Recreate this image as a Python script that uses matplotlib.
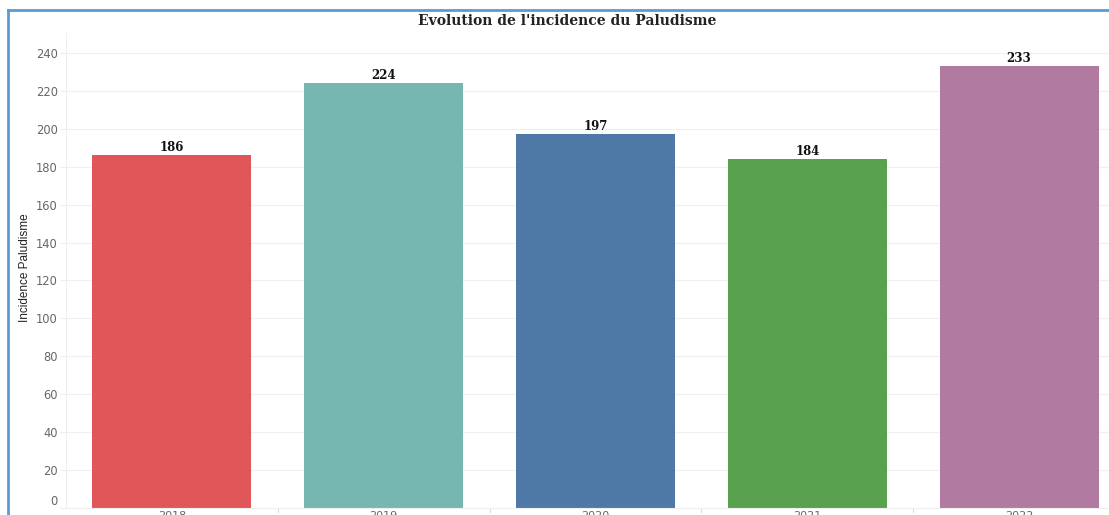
import matplotlib
matplotlib.use('Agg')
import matplotlib.pyplot as plt
from matplotlib.lines import Line2D

# Données
annees = ['2018', '2019', '2020', '2021', '2022']
incidence = [186, 224, 197, 184, 233]
couleurs = ['#e15759', '#76b7b2', '#4e79a7', '#59a14f', '#b07aa1']
graduations = [0, 20, 40, 60, 80, 100, 120, 140, 160, 180, 200, 220, 240]

fig = plt.figure(figsize=(11.09, 5.15), dpi=100)
ax = fig.add_axes([66 / 1109, 7 / 515, 1059 / 1109, 475 / 515])

pos = range(len(annees))
ax.bar(pos, incidence, width=0.75, color=couleurs, zorder=2)

# Étiquettes de valeurs
for p, v in zip(pos, incidence):
    ax.annotate(str(v), (p, v), xytext=(0, 1), textcoords='offset points',
                ha='center', va='bottom', fontsize=8.5, fontweight='bold',
                family='DejaVu Serif', color='#111111')

ax.set_xlim(-0.5, 4.5)
ax.set_ylim(0, 250.5)
ax.set_yticks(graduations)
ax.set_yticklabels([str(g) for g in graduations], fontsize=8.3, color='#666666')
# le zéro est remonté comme dans Tableau
ax.get_yticklabels()[0].set_verticalalignment('bottom')
ax.set_xticks(list(pos))
ax.set_xticklabels(annees, fontsize=8, color='#666666')
ax.tick_params(axis='y', length=4, color='#eeeeee', pad=2)
ax.tick_params(axis='x', length=0, pad=2)
ax.grid(axis='y', color='#f0f0f0', linewidth=0.8, zorder=0)

for s in ['top', 'right']:
    ax.spines[s].set_visible(False)
for s in ['left', 'bottom']:
    ax.spines[s].set_color('#eeeeee')
    ax.spines[s].set_linewidth(0.8)

# Petites graduations entre les barres
for b in [0.5, 1.5, 2.5, 3.5]:
    ax.plot([b, b], [0, -2], color='#dddddd', linewidth=0.8, clip_on=False)

# Titre et axe
fig.text(567 / 1109, 1 - 21 / 515, "Evolution de l'incidence du Paludisme",
         ha='center', va='center', fontsize=10, fontweight='bold',
         family='DejaVu Serif', color='#222222')
fig.text(25 / 1109, 0.48, 'Incidence Paludisme', rotation=90,
         ha='center', va='center', fontsize=8.5,
         family=['Liberation Sans Narrow', 'Liberation Sans', 'DejaVu Sans'],
         color='#222222')

# Cadre bleu
fig.add_artist(Line2D([8 / 1109, 8 / 1109], [0, 1 - 10 / 515],
                      transform=fig.transFigure, color='#5b9bd5', linewidth=2))
fig.add_artist(Line2D([8 / 1109, 1], [1 - 10 / 515, 1 - 10 / 515],
                      transform=fig.transFigure, color='#5b9bd5', linewidth=2))

fig.savefig('out.png', dpi=100)
